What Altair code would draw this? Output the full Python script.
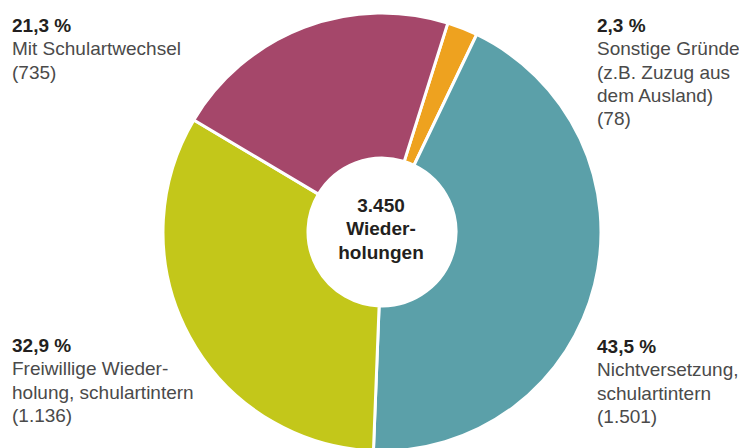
import math
import altair as alt
import pandas as pd

# ---- data ----
categories = [
    "Sonstige Gründe",
    "Nichtversetzung, schulartintern",
    "Freiwillige Wiederholung, schulartintern",
    "Mit Schulartwechsel",
]
counts = [78, 1501, 1136, 735]
share_labels = ["2,3 %", "43,5 %", "32,9 %", "21,3 %"]
detail_lines = [
    ["Sonstige Gründe", "(z.B. Zuzug aus", "dem Ausland)", "(78)"],
    ["Nichtversetzung,", "schulartintern", "(1.501)"],
    ["Freiwillige Wieder-", "holung, schulartintern", "(1.136)"],
    ["Mit Schulartwechsel", "(735)"],
]
center_lines = ["3.450", "Wieder-", "holungen"]
colors = ["#eea21f", "#5ba0a9", "#c3c71a", "#a5476a"]

# ---- layout ----
W, H = 731, 440
CX, CY = 374, 224
R_OUT, R_IN = 219, 74
START = 0.305
FONT = "Liberation Sans"
FS = 19
LH = 23.3
# label anchors (x, baseline of first line) per category
anchors = [(589, 24), (589, 345), (4, 344), (4, 24)]

df = pd.DataFrame({"cat": categories, "n": counts, "ord": list(range(len(categories)))})

arc = alt.Chart(df).mark_arc(
    innerRadius=R_IN, outerRadius=R_OUT, stroke="white", strokeWidth=3
).encode(
    theta=alt.Theta("n:Q", stack=True,
                    scale=alt.Scale(range=[START, START + 2 * math.pi])),
    color=alt.Color("cat:N", scale=alt.Scale(domain=categories, range=colors), legend=None),
    order=alt.Order("ord:Q"),
    x=alt.value(CX),
    y=alt.value(CY),
)

layers = [arc]
for i, cat in enumerate(categories):
    ax, ay = anchors[i]
    bold = alt.Chart(pd.DataFrame({"t": [share_labels[i]]})).mark_text(
        align="left", baseline="alphabetic", font=FONT, fontSize=FS,
        fontWeight="bold", color="#231f20"
    ).encode(text="t:N", x=alt.value(ax), y=alt.value(ay))
    normal = alt.Chart(pd.DataFrame({"t": ["\n".join(detail_lines[i])]})).mark_text(
        align="left", baseline="alphabetic", font=FONT, fontSize=FS,
        color="#4a4a4a", lineBreak="\n", lineHeight=LH
    ).encode(text="t:N", x=alt.value(ax), y=alt.value(ay + LH))
    layers += [bold, normal]

center = alt.Chart(pd.DataFrame({"t": ["\n".join(center_lines)]})).mark_text(
    align="center", baseline="alphabetic", font=FONT, fontSize=FS,
    fontWeight="bold", color="#231f20", lineBreak="\n", lineHeight=LH
).encode(text="t:N", x=alt.value(CX - 1), y=alt.value(204))
layers.append(center)

chart = alt.layer(*layers).properties(
    width=W, height=H, autosize="none", padding=0
).configure_view(stroke=None)

chart.save("out.html", embed_options={"renderer": "svg", "actions": False})
